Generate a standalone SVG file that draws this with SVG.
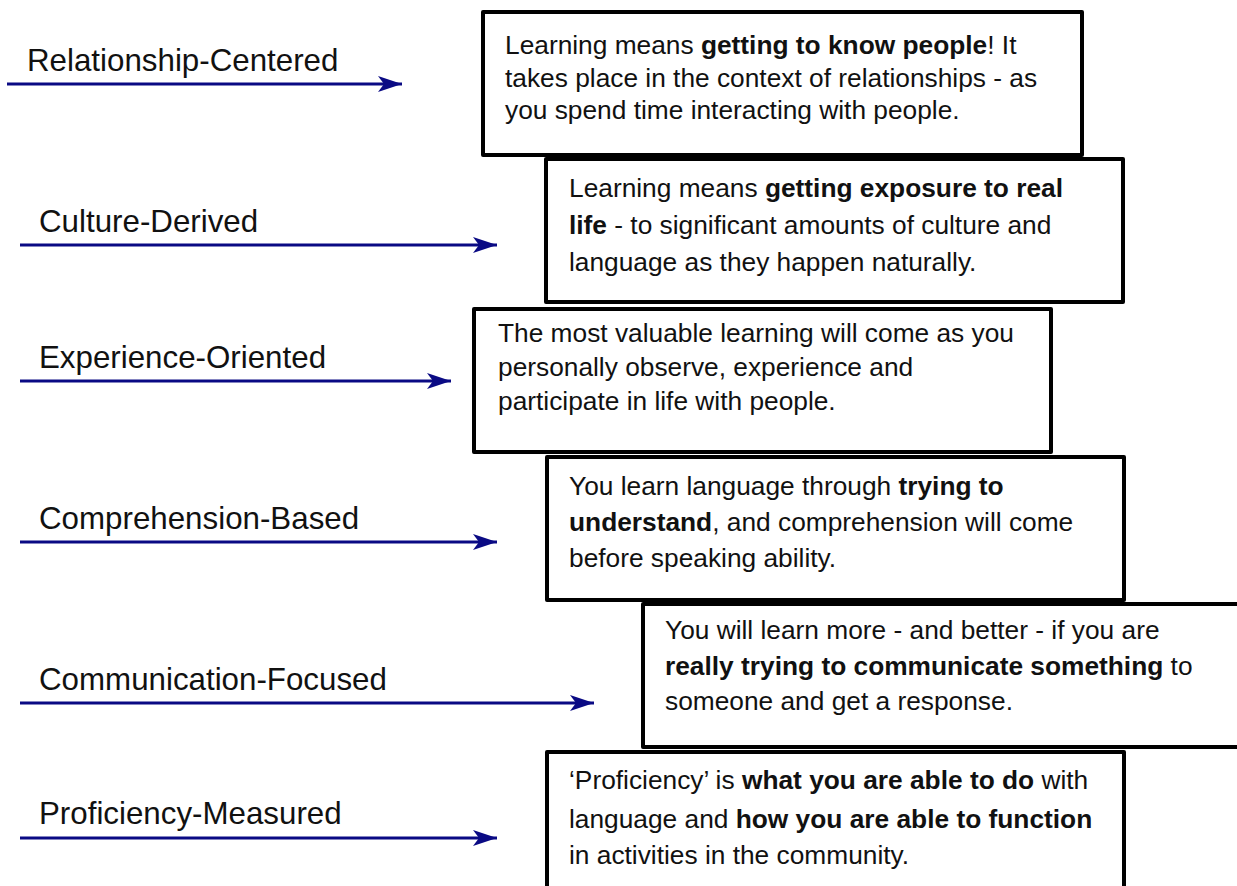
<svg xmlns="http://www.w3.org/2000/svg" width="1237" height="886" viewBox="0 0 1237 886">
<style>
.box{fill:#fff;stroke:#000;stroke-width:4;stroke-linejoin:round}
.t{font-family:"Liberation Sans",Arial,sans-serif;font-size:26.3px;fill:#111}
.b{font-weight:bold}
.lbl{font-family:"Liberation Sans",Arial,sans-serif;font-size:31.3px;fill:#111}
.arr{stroke:#0a0a84;stroke-width:3;fill:none}
</style>
<defs>
<marker id="ah" markerUnits="userSpaceOnUse" markerWidth="26" markerHeight="18" refX="24" refY="9" orient="auto">
<path d="M0,1 L24,9 L0,17 L6,9 Z" fill="#0a0a84"/>
</marker>
</defs>
<rect width="1237" height="886" fill="#fff"/>
<g id="connectors">
<line class="arr" x1="7" y1="84" x2="402" y2="84" marker-end="url(#ah)"/>
<line class="arr" x1="20" y1="245" x2="497" y2="245" marker-end="url(#ah)"/>
<line class="arr" x1="20" y1="381" x2="451" y2="381" marker-end="url(#ah)"/>
<line class="arr" x1="20" y1="542" x2="497" y2="542" marker-end="url(#ah)"/>
<line class="arr" x1="20" y1="703" x2="594" y2="703" marker-end="url(#ah)"/>
<line class="arr" x1="20" y1="838" x2="497" y2="838" marker-end="url(#ah)"/>
</g>
<g id="labels">
<text class="lbl" x="27" y="71">Relationship-Centered</text>
<text class="lbl" x="39" y="232">Culture-Derived</text>
<text class="lbl" x="39" y="368">Experience-Oriented</text>
<text class="lbl" x="39" y="529">Comprehension-Based</text>
<text class="lbl" x="39" y="690">Communication-Focused</text>
<text class="lbl" x="39" y="824">Proficiency-Measured</text>
</g>
<g id="box1">
<rect class="box" x="483" y="12" width="599" height="143"/>
<text class="t" x="505" y="54">Learning means <tspan class="b">getting to know people</tspan>! It</text>
<text class="t" x="505" y="87">takes place in the context of relationships - as</text>
<text class="t" x="505" y="119">you spend time interacting with people.</text>
</g>
<g id="box2">
<rect class="box" x="546" y="159" width="577" height="143"/>
<text class="t" x="569" y="197">Learning means <tspan class="b">getting exposure to real</tspan></text>
<text class="t" x="569" y="234"><tspan class="b">life</tspan> - to significant amounts of culture and</text>
<text class="t" x="569" y="271">language as they happen naturally.</text>
</g>
<g id="box3">
<rect class="box" x="474" y="309" width="577" height="143"/>
<text class="t" x="498" y="342">The most valuable learning will come as you</text>
<text class="t" x="498" y="376">personally observe, experience and</text>
<text class="t" x="498" y="410">participate in life with people.</text>
</g>
<g id="box4">
<rect class="box" x="547" y="457" width="577" height="143"/>
<text class="t" x="569" y="495">You learn language through <tspan class="b">trying to</tspan></text>
<text class="t" x="569" y="531"><tspan class="b">understand</tspan>, and comprehension will come</text>
<text class="t" x="569" y="567">before speaking ability.</text>
</g>
<g id="box5">
<rect class="box" x="643" y="604" width="620" height="143"/>
<text class="t" x="665" y="639">You will learn more - and better - if you are</text>
<text class="t" x="665" y="675"><tspan class="b">really trying to communicate something</tspan> to</text>
<text class="t" x="665" y="710">someone and get a response.</text>
</g>
<g id="box6">
<rect class="box" x="547" y="752" width="577" height="160"/>
<text class="t" x="569" y="789">‘Proficiency’ is <tspan class="b">what you are able to do</tspan> with</text>
<text class="t" x="569" y="828">language and <tspan class="b">how you are able to function</tspan></text>
<text class="t" x="569" y="864">in activities in the community.</text>
</g>
</svg>
